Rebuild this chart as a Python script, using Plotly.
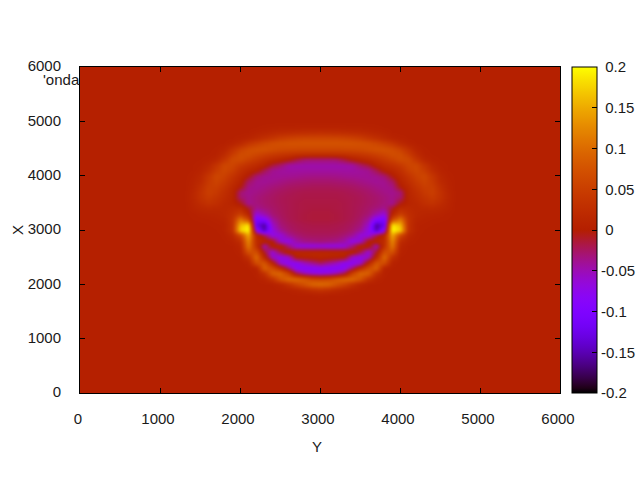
import numpy as np
import plotly.graph_objects as go

# axis positions of the grid
y_cols = [0, 1300] + list(range(1400, 4700, 100)) + [4700, 6000]
x_rows = [0, 1700] + list(range(1800, 5000, 100)) + [5000, 6000]

BACK = 2  # flat field outside the grid

# wave field in thousandths, one row per X from 1800 to 4900, columns Y 1400..4600
wave_milli = [
    [2,2,2,2,2,2,2,2,2,2,2,2,2,3,3,3,4,3,3,3,2,2,2,2,2,2,2,2,2,2,2,2,2],
    [2,2,2,2,2,2,2,2,2,2,2,3,4,8,15,24,30,24,15,8,4,3,2,2,2,2,2,2,2,2,2,2,2],
    [2,2,2,2,2,2,2,2,2,3,3,10,30,55,75,95,100,95,75,55,30,10,3,3,2,2,2,2,2,2,2,2,2],
    [2,2,2,2,2,2,2,2,3,8,30,75,98,98,85,65,60,65,85,98,98,75,30,8,3,2,2,2,2,2,2,2,2],
    [2,2,2,2,2,2,2,2,4,30,90,95,55,-20,-50,-65,-70,-65,-50,-20,55,95,90,30,4,2,2,2,2,2,2,2,2],
    [2,2,2,2,2,2,2,3,6,90,68,25,-30,-80,-88,-88,-85,-88,-88,-80,-30,25,68,90,6,3,2,2,2,2,2,2,2],
    [2,2,2,2,2,2,2,5,65,80,15,-60,-80,-80,-55,-40,-25,-40,-55,-80,-80,-60,15,80,65,5,2,2,2,2,2,2,2],
    [2,2,2,2,2,2,3,27,100,15,-55,-75,-60,0,5,8,10,8,5,0,-60,-75,-55,15,100,27,3,2,2,2,2,2,2],
    [2,2,2,2,2,2,6,70,70,-10,-65,-20,10,15,15,15,15,15,15,15,10,-20,-65,-10,70,70,6,2,2,2,2,2,2],
    [2,2,2,2,2,3,10,110,30,-50,5,10,-30,-65,-70,-70,-68,-70,-70,-65,-30,10,5,-50,30,110,10,3,2,2,2,2,2],
    [2,2,2,2,3,6,22,125,22,10,0,-60,-72,-45,-35,-32,-30,-32,-35,-45,-72,-60,0,10,22,125,22,6,3,2,2,2,2],
    [2,2,2,2,4,14,60,150,15,-20,-70,-65,-40,-30,-25,-24,-24,-24,-25,-30,-40,-65,-70,-20,15,150,60,14,4,2,2,2,2],
    [2,2,2,3,6,30,175,200,-80,-150,-70,-40,-28,-23,-21,-20,-20,-20,-21,-23,-28,-40,-70,-150,-80,200,175,30,6,3,2,2,2],
    [2,2,3,4,6,30,160,190,-125,-160,-58,-32,-25,-21,-19,-18,-18,-18,-19,-21,-25,-32,-58,-160,-125,190,160,30,6,4,3,2,2],
    [3,4,5,7,10,30,110,60,-105,-90,-42,-27,-21,-18,-16,-15,-15,-15,-16,-18,-21,-27,-42,-90,-105,60,110,30,10,7,5,4,3],
    [4,7,9,10,14,25,50,10,-65,-48,-30,-24,-20,-18,-16,-15,-15,-15,-16,-18,-20,-24,-30,-48,-65,10,50,25,14,10,9,7,4],
    [8,14,18,16,14,18,20,-10,-38,-32,-27,-23,-20,-18,-17,-16,-16,-16,-17,-18,-20,-23,-27,-32,-38,-10,20,18,14,16,18,14,8],
    [10,22,32,26,16,9,-6,-38,-32,-28,-25,-22,-20,-18,-17,-17,-17,-17,-17,-18,-20,-22,-25,-28,-32,-38,-6,9,16,26,32,22,10],
    [12,30,44,34,22,10,-28,-36,-32,-28,-25,-22,-20,-19,-18,-18,-18,-18,-18,-19,-20,-22,-25,-28,-32,-36,-28,10,22,34,44,30,12],
    [11,30,50,42,26,12,-30,-38,-35,-31,-27,-24,-22,-20,-19,-19,-19,-19,-19,-20,-22,-24,-27,-31,-35,-38,-30,12,26,42,50,30,11],
    [9,26,48,48,34,16,-4,-35,-38,-35,-31,-28,-25,-24,-23,-22,-22,-22,-23,-24,-25,-28,-31,-35,-38,-35,-4,16,34,48,48,26,9],
    [7,18,42,56,44,26,8,-25,-38,-40,-38,-35,-32,-30,-29,-28,-28,-28,-29,-30,-32,-35,-38,-40,-38,-25,8,26,44,56,42,18,7],
    [5,14,38,60,52,34,16,-4,-30,-38,-40,-40,-39,-38,-36,-35,-35,-35,-36,-38,-39,-40,-40,-38,-30,-4,16,34,52,60,38,14,5],
    [3,8,22,46,60,50,28,14,4,-20,-38,-42,-44,-44,-44,-44,-44,-44,-44,-44,-44,-42,-38,-20,4,14,28,50,60,46,22,8,3],
    [3,5,14,36,60,58,42,30,20,7,-15,-28,-44,-47,-47,-47,-47,-47,-47,-47,-44,-28,-15,7,20,30,42,58,60,36,14,5,3],
    [2,3,5,12,36,62,66,54,42,30,20,12,2,-15,-28,-30,-30,-30,-28,-15,2,12,20,30,42,54,66,62,36,12,5,3,2],
    [2,2,3,5,20,46,66,68,60,52,44,38,34,30,28,27,27,27,28,30,34,38,44,52,60,68,66,46,20,5,3,2,2],
    [2,2,2,4,10,30,52,66,72,72,68,64,62,61,60,60,60,60,60,61,62,64,68,72,72,66,52,30,10,4,2,2,2],
    [2,2,2,2,3,7,18,36,49,60,68,72,74,75,75,75,75,75,75,75,74,72,68,60,49,36,18,7,3,2,2,2,2],
    [2,2,2,2,2,3,5,9,18,28,37,47,53,57,60,60,60,60,60,57,53,47,37,28,18,9,5,3,2,2,2,2,2],
    [2,2,2,2,2,2,2,3,7,10,14,18,20,22,24,25,26,25,24,22,20,18,14,10,7,3,2,2,2,2,2,2,2],
    [2,2,2,2,2,2,2,2,3,4,5,6,6,7,7,7,7,7,7,7,6,6,5,4,3,2,2,2,2,2,2,2,2],
]

cb_vals = [-0.2, -0.15, -0.1, -0.05, 0, 0.05, 0.1, 0.15, 0.2]
cb_text = ['-0.2', '-0.15', '-0.1', '-0.05', '\u00a00', '\u00a00.05', '\u00a00.1', '\u00a00.15', '\u00a00.2']
axis_ticks = [0, 1000, 2000, 3000, 4000, 5000, 6000]


def palette(n=65):
    # gnuplot default pm3d palette, rgbformulae 7,5,15
    stops = []
    for t in np.linspace(0, 1, n):
        r = np.sqrt(t)
        g = t ** 3
        b = max(np.sin(2 * np.pi * t), 0)
        stops.append([float(t), 'rgb(%d,%d,%d)' % (r * 255, g * 255, b * 255)])
    return stops


z = np.pad(np.array(wave_milli, dtype=float), 2, constant_values=BACK) / 1000.0

font = dict(family='Liberation Sans', size=15, color='#1a1a1a')

fig = go.Figure()
fig.add_trace(go.Heatmap(
    x=y_cols, y=x_rows, z=z,
    zmin=-0.2, zmax=0.2, zsmooth='best',
    colorscale=palette(),
    colorbar=dict(
        x=(572 - 80) / 480, xanchor='left', xpad=0, ypad=0,
        y=0, yanchor='bottom', len=1, lenmode='fraction',
        thickness=25, outlinecolor='black', outlinewidth=1,
        tickmode='array', tickvals=cb_vals, ticktext=cb_text,
        ticks='inside', ticklen=5, tickcolor='black', tickwidth=1,
        tickfont=font,
    ),
))

axis_style = dict(
    range=[0, 6000], tickmode='array', tickvals=axis_ticks,
    ticks='inside', ticklen=5, tickcolor='black', tickwidth=1,
    showline=True, linecolor='black', linewidth=1, mirror='ticks',
    showgrid=False, zeroline=False, tickfont=font,
)
fig.update_xaxes(ticklabelstandoff=12, ticklabelshift=-2, **axis_style)
fig.update_yaxes(ticklabelstandoff=15, ticklabelshift=-1, **axis_style)

# axis names sit a little off centre in the original
fig.add_annotation(text='Y', xref='paper', yref='paper', x=(317 - 80) / 480, y=(393 - 446) / 326,
                   xanchor='center', yanchor='middle', showarrow=False, font=font)
fig.add_annotation(text='X', xref='paper', yref='paper', x=(17 - 80) / 480, y=(393 - 230) / 326,
                   xanchor='center', yanchor='middle', textangle=-90, showarrow=False, font=font)

# colorbar ticks on its left edge as well
for v in cb_vals[1:-1]:
    fig.add_shape(type='line', xref='paper', yref='paper',
                  x0=(572 - 80) / 480, x1=(577 - 80) / 480,
                  y0=(v + 0.2) / 0.4, y1=(v + 0.2) / 0.4,
                  line=dict(color='black', width=1))

# key text of the original plot, hidden behind the map except its start
fig.add_annotation(text="'onda", xref='paper', yref='paper', x=(41 - 80) / 480, y=(393 - 79) / 326,
                   xanchor='left', yanchor='middle', showarrow=False, font=font)

fig.update_layout(
    width=640, height=480, autosize=False,
    margin=dict(l=80, r=80, t=67, b=87, pad=0, autoexpand=False),
    paper_bgcolor='white', plot_bgcolor='rgb(181,35,0)',
)

# drop the default 8px page margin, and soften the map a little like the original
page_js = """
document.body.style.margin = '0';
document.querySelectorAll('.hm image').forEach(function (im) { im.style.filter = 'blur(1.5px)'; });
"""
fig.write_html("out.html", post_script=page_js, config={'displayModeBar': False})
